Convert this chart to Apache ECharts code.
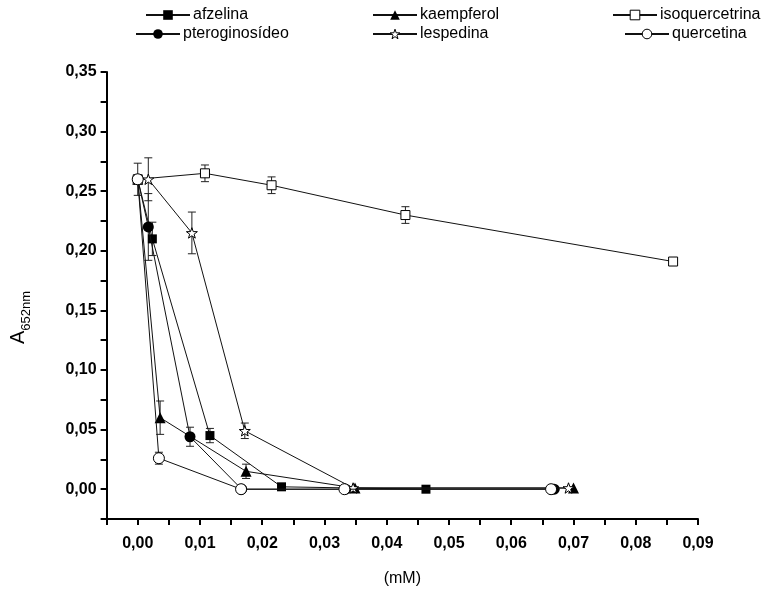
<!DOCTYPE html>
<html>
<head>
<meta charset="utf-8">
<script src="https://cdn.jsdelivr.net/npm/echarts@6/dist/echarts.min.js"></script>
<style>html,body{margin:0;padding:0;background:#fff}#c{width:784px;height:592px}</style>
</head>
<body>
<div id="c"></div>
<script>
// ---- data ----
var seriesNames = ['afzelina', 'kaempferol', 'isoquercetrina', 'pteroginosídeo', 'lespedina', 'quercetina'];

var afzelinaX = [0, 0.00235, 0.0116, 0.0231, 0.0463];
var afzelinaY = [0.26, 0.21, 0.045, 0.002, 0.0];
var afzelinaErr = [0, 0.014, 0.006, 0, 0];

var kaempferolX = [0, 0.0036, 0.0174, 0.0349, 0.0700];
var kaempferolY = [0.26, 0.06, 0.015, 0.001, 0.001];
var kaempferolErr = [0, 0.014, 0.006, 0, 0];

var isoquercetrinaX = [0, 0.0108, 0.0215, 0.0430, 0.0860];
var isoquercetrinaY = [0.26, 0.265, 0.255, 0.230, 0.191];
var isoquercetrinaErr = [0, 0.007, 0.007, 0.007, 0.002];

var pteroginosideoX = [0, 0.0017, 0.0084, 0.0167, 0.0334, 0.0669];
var pteroginosideoY = [0.26, 0.22, 0.044, 0.0, 0.0, 0.0];
var pteroginosideoErr = [0, 0.028, 0.008, 0, 0, 0];

var lespedinaX = [0, 0.0017, 0.0087, 0.0172, 0.0346, 0.0692];
var lespedinaY = [0.26, 0.26, 0.215, 0.049, 0.001, 0.001];
var lespedinaErr = [0, 0.018, 0.0175, 0.0065, 0, 0];

var quercetinaX = [0, 0.0034, 0.0166, 0.0332, 0.0664];
var quercetinaY = [0.26, 0.026, 0.0, 0.0, 0.0];
var quercetinaErr = [0.0135, 0.005, 0, 0, 0];

var xTickLabels = ['0,00', '0,01', '0,02', '0,03', '0,04', '0,05', '0,06', '0,07', '0,08', '0,09'];
var yTickLabels = ['0,00', '0,05', '0,10', '0,15', '0,20', '0,25', '0,30', '0,35'];

// ---- build ----
var FONT = 'Liberation Sans, Arial, Helvetica, sans-serif';
var STAR = 'path://M0,-10 L2.35,-3.24 L9.51,-3.09 L3.8,1.24 L5.88,8.09 L0,4 L-5.88,8.09 L-3.8,1.24 L-9.51,-3.09 L-2.35,-3.24 Z';

var sets = [
  {name: 'afzelina', x: afzelinaX, y: afzelinaY, e: afzelinaErr, symbol: 'rect', size: 9, fill: '#000'},
  {name: 'kaempferol', x: kaempferolX, y: kaempferolY, e: kaempferolErr, symbol: 'triangle', size: 11, fill: '#000'},
  {name: 'isoquercetrina', x: isoquercetrinaX, y: isoquercetrinaY, e: isoquercetrinaErr, symbol: 'rect', size: 9, fill: '#fff'},
  {name: 'pteroginosídeo', x: pteroginosideoX, y: pteroginosideoY, e: pteroginosideoErr, symbol: 'circle', size: 11, fill: '#000'},
  {name: 'lespedina', x: lespedinaX, y: lespedinaY, e: lespedinaErr, symbol: STAR, size: 11, fill: '#fff'},
  {name: 'quercetina', x: quercetinaX, y: quercetinaY, e: quercetinaErr, symbol: 'circle', size: 11, fill: '#fff'}
];
var setByName = {};
sets.forEach(function (s) { setByName[s.name] = s; });

function isMult(v, step) {
  var r = v / step;
  return Math.abs(r - Math.round(r)) < 1e-6;
}

var series = [];
// error bars first (drawn under the symbols)
sets.forEach(function (s) {
  var d = [];
  for (var i = 0; i < s.x.length; i++) {
    if (s.e[i] > 0) d.push([s.x[i], s.y[i], s.e[i]]);
  }
  series.push({
    type: 'custom',
    name: s.name + '_err',
    z: 2,
    silent: true,
    renderItem: function (params, api) {
      var x = api.value(0), y = api.value(1), e = api.value(2);
      var top = api.coord([x, y + e]);
      var bot = api.coord([x, y - e]);
      var w = 4;
      var st = {stroke: '#222', lineWidth: 1};
      return {
        type: 'group',
        children: [
          {type: 'line', shape: {x1: top[0], y1: top[1], x2: bot[0], y2: bot[1]}, style: st},
          {type: 'line', shape: {x1: top[0] - w, y1: top[1], x2: top[0] + w, y2: top[1]}, style: st},
          {type: 'line', shape: {x1: bot[0] - w, y1: bot[1], x2: bot[0] + w, y2: bot[1]}, style: st}
        ]
      };
    },
    data: d
  });
});
sets.forEach(function (s, k) {
  var d = [];
  for (var i = 0; i < s.x.length; i++) d.push([s.x[i], s.y[i]]);
  series.push({
    type: 'line',
    name: s.name,
    data: d,
    z: 3 + k,
    symbol: s.symbol,
    symbolSize: s.size,
    symbolKeepAspect: true,
    showAllSymbol: true,
    lineStyle: {color: '#111', width: 1},
    itemStyle: {color: s.fill, borderColor: '#000', borderWidth: s.fill === '#fff' ? 1 : 0},
    emphasis: {disabled: true},
    animation: false
  });
});

var legendPos = {
  'afzelina': [145, 7],
  'kaempferol': [372, 7],
  'isoquercetrina': [612, 7],
  'pteroginosídeo': [135, 26],
  'lespedina': [372, 26],
  'quercetina': [624, 26]
};
var legends = seriesNames.map(function (n) {
  var s = setByName[n];
  return {
    data: [{
      name: n,
      itemStyle: {color: s.fill, borderColor: '#000', borderWidth: s.fill === '#fff' ? 1 : 0}
    }],
    left: legendPos[n][0],
    top: legendPos[n][1],
    padding: 0,
    itemWidth: 44,
    itemHeight: 12,
    selectedMode: false,
    textStyle: {fontFamily: FONT, fontSize: 16, color: '#000', padding: [0, 0, 0, -2]}
  };
});

var option = {
  animation: false,
  backgroundColor: '#fff',
  legend: legends,
  grid: {left: 106.6, right: 86, top: 72, bottom: 71.7},
  xAxis: {
    type: 'value',
    min: -0.005,
    max: 0.09,
    interval: 0.005,
    name: '(mM)',
    nameLocation: 'middle',
    nameGap: 52,
    nameTextStyle: {fontFamily: FONT, fontSize: 16, color: '#000'},
    splitLine: {show: false},
    axisLine: {show: true, onZero: false, lineStyle: {color: '#000', width: 2}},
    axisTick: {show: true, inside: false, length: 6, lineStyle: {color: '#000', width: 2}},
    axisLabel: {
      margin: 17,
      fontFamily: FONT, fontSize: 16, fontWeight: 'bold', color: '#000',
      showMinLabel: true, showMaxLabel: true,
      formatter: function (v) {
        if (v < -1e-9 || !isMult(v, 0.01)) return '';
        return xTickLabels[Math.round(v / 0.01)] || '';
      }
    }
  },
  yAxis: {
    type: 'value',
    min: -0.025,
    max: 0.35,
    interval: 0.025,
    name: '{a|A}{s|652nm}',
    nameLocation: 'middle',
    nameGap: 78,
    nameRotate: 90,
    nameTextStyle: {
      fontFamily: FONT, color: '#000', padding: [0, 44, 0, 0],
      rich: {
        a: {fontFamily: FONT, fontSize: 20, color: '#000', verticalAlign: 'bottom'},
        s: {fontFamily: FONT, fontSize: 13, color: '#000', verticalAlign: 'bottom', padding: [0, 0, -4, 0]}
      }
    },
    splitLine: {show: false},
    axisLine: {show: true, onZero: false, lineStyle: {color: '#000', width: 2}},
    axisTick: {show: true, inside: false, length: 6, lineStyle: {color: '#000', width: 2}},
    axisLabel: {
      margin: 10,
      fontFamily: FONT, fontSize: 16, fontWeight: 'bold', color: '#000',
      formatter: function (v) {
        if (v < -1e-9 || !isMult(v, 0.05)) return '';
        return yTickLabels[Math.round(v / 0.05)] || '';
      }
    }
  },
  series: series
};

var chart = echarts.init(document.getElementById('c'), null, {renderer: 'canvas'});
chart.setOption(option);
</script>
</body>
</html>
